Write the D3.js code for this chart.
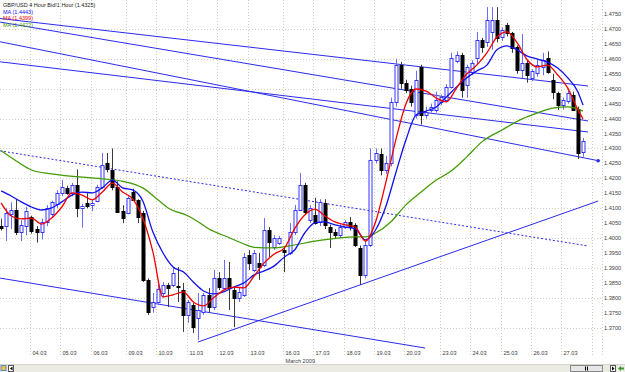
<!DOCTYPE html>
<html>
<head>
<meta charset="utf-8" />
<title>GBP/USD 4 Hour</title>
<script src="https://d3js.org/d3.v7.min.js"></script>
<style>
  body { margin: 0; background: #ffffff; }
  svg { display: block; font-family: "Liberation Sans", Arial, sans-serif; }
</style>
</head>
<body>
<svg id="chart"></svg>
<script>
// 4 hour bars, GBP/USD, 03.03.2009 - 27.03.2009
var opens  = [1.4040,1.4040,1.4080,1.4095,1.4020,1.4040,1.4070,1.4030,1.4020,1.4055,1.4080,1.4115,1.4150,1.4168,1.4150,1.4178,1.4100,1.4117,1.4110,1.4125,1.4170,1.4250,1.4228,1.4172,1.4090,1.4085,1.4155,1.4128,1.4084,1.3860,1.3769,1.3786,1.3815,1.3843,1.3843,1.3840,1.3826,1.3743,1.3776,1.3733,1.3753,1.3810,1.3769,1.3866,1.3833,1.3866,1.3826,1.3800,1.3810,1.3943,1.3893,1.3917,1.3910,1.4027,1.3970,1.3983,1.3960,1.3950,1.4020,1.4094,1.4178,1.4060,1.4077,1.4055,1.4117,1.4037,1.4020,1.4010,1.4037,1.4054,1.4044,1.3967,1.3877,1.3977,1.4262,1.4282,1.4228,1.4250,1.4455,1.4579,1.4519,1.4500,1.4412,1.4573,1.4412,1.4429,1.4429,1.4455,1.4462,1.4506,1.4593,1.4613,1.4512,1.4556,1.4603,1.4663,1.4656,1.4690,1.4730,1.4673,1.4713,1.4686,1.4640,1.4563,1.4586,1.4536,1.4553,1.4573,1.4603,1.4529,1.4486,1.4445,1.4460,1.4480,1.4432,1.4288];
var highs  = [1.4065,1.4100,1.4120,1.4130,1.4060,1.4105,1.4075,1.4040,1.4065,1.4110,1.4125,1.4160,1.4195,1.4175,1.4185,1.4230,1.4115,1.4150,1.4130,1.4178,1.4285,1.4285,1.4300,1.4190,1.4110,1.4140,1.4165,1.4130,1.4091,1.3865,1.3816,1.3845,1.3853,1.3850,1.3900,1.3903,1.3850,1.3793,1.3783,1.3816,1.3816,1.3833,1.3893,1.3886,1.3927,1.3920,1.3833,1.3833,1.3950,1.3960,1.3960,1.3950,1.4067,1.4037,1.4010,1.4007,1.3970,1.4050,1.4111,1.4218,1.4185,1.4110,1.4135,1.4130,1.4130,1.4045,1.4030,1.4045,1.4060,1.4070,1.4050,1.3975,1.3990,1.4300,1.4300,1.4300,1.4275,1.4470,1.4600,1.4590,1.4530,1.4510,1.4560,1.4580,1.4440,1.4450,1.4490,1.4480,1.4515,1.4620,1.4625,1.4620,1.4580,1.4595,1.4690,1.4670,1.4773,1.4773,1.4773,1.4705,1.4720,1.4690,1.4645,1.4683,1.4593,1.4565,1.4600,1.4620,1.4625,1.4550,1.4490,1.4470,1.4495,1.4490,1.4440,1.4335];
var lows   = [1.4025,1.3990,1.4030,1.4010,1.3990,1.4010,1.4015,1.3985,1.3995,1.4040,1.4070,1.4100,1.4140,1.4145,1.4140,1.4070,1.4035,1.4100,1.4090,1.4120,1.4165,1.4220,1.4160,1.4085,1.4050,1.4080,1.4125,1.4050,1.3853,1.3743,1.3750,1.3780,1.3800,1.3769,1.3836,1.3786,1.3686,1.3716,1.3682,1.3659,1.3743,1.3750,1.3759,1.3826,1.3826,1.3759,1.3702,1.3786,1.3803,1.3893,1.3886,1.3860,1.3903,1.3937,1.3960,1.3977,1.3886,1.3943,1.4010,1.4090,1.4080,1.4050,1.4045,1.4040,1.4030,1.3967,1.4000,1.4000,1.4030,1.4025,1.3970,1.3843,1.3865,1.3970,1.4250,1.4210,1.4215,1.4240,1.4440,1.4500,1.4485,1.4440,1.4400,1.4380,1.4400,1.4420,1.4420,1.4445,1.4455,1.4500,1.4585,1.4470,1.4470,1.4545,1.4580,1.4620,1.4640,1.4630,1.4655,1.4660,1.4675,1.4620,1.4550,1.4535,1.4520,1.4525,1.4540,1.4545,1.4550,1.4465,1.4429,1.4430,1.4450,1.4425,1.4265,1.4272];
var closes = [1.4035,1.4085,1.4095,1.4020,1.4045,1.4090,1.4025,1.4020,1.4055,1.4100,1.4120,1.4150,1.4170,1.4150,1.4178,1.4100,1.4108,1.4108,1.4118,1.4170,1.4245,1.4230,1.4172,1.4088,1.4068,1.4135,1.4128,1.4070,1.3860,1.3753,1.3786,1.3830,1.3843,1.3833,1.3883,1.3835,1.3743,1.3786,1.3702,1.3759,1.3810,1.3769,1.3866,1.3836,1.3866,1.3833,1.3800,1.3820,1.3937,1.3917,1.3950,1.3903,1.4027,1.3987,1.4000,1.4000,1.3953,1.4020,1.4094,1.4178,1.4087,1.4100,1.4050,1.4120,1.4044,1.4020,1.4010,1.4037,1.4054,1.4037,1.3977,1.3877,1.3977,1.4262,1.4285,1.4228,1.4250,1.4455,1.4579,1.4519,1.4496,1.4455,1.4529,1.4412,1.4422,1.4439,1.4462,1.4472,1.4506,1.4603,1.4613,1.4496,1.4573,1.4586,1.4663,1.4640,1.4730,1.4730,1.4670,1.4697,1.4686,1.4636,1.4563,1.4586,1.4546,1.4559,1.4580,1.4596,1.4556,1.4489,1.4445,1.4462,1.4486,1.4430,1.4285,1.4325];

// first bar of each day
var dayLabels = ["04.03","05.03","06.03","09.03","10.03","11.03","12.03","13.03","16.03","17.03","18.03","19.03","20.03","23.03","24.03","25.03","26.03","27.03"];
var dayStart  = [6,12,18,25,31,37,43,49,56,62,68,74,80,87,93,99,105,111];
var monthLabel = "March 2009";
var monthBar = 56;

var priceTicks = [1.3700,1.3750,1.3800,1.3850,1.3900,1.3950,1.4000,1.4050,1.4100,1.4150,1.4200,1.4250,1.4300,1.4350,1.4400,1.4450,1.4500,1.4550,1.4600,1.4650,1.4700,1.4750];
var gridPrices = [1.37,1.38,1.39,1.40,1.41,1.42,1.43,1.44,1.45,1.46,1.47];

// moving averages
var maIndex = [0,2,4,6,8,10,12,14,16,18,20,22,24,26,28,30,32,34,36,38,40,42,44,46,48,50,52,54,56,58,60,62,64,66,68,70,72,74,76,78,80,82,84,86,88,90,92,94,96,98,100,102,104,106,108,110,112,114,115];
var maBlue = [1.4158,1.4141,1.4121,1.4104,1.4094,1.4101,1.4121,1.4144,1.4154,1.4151,1.4168,1.4194,1.4168,1.4161,1.4124,1.4020,1.3950,1.3903,1.3887,1.3853,1.3823,1.3813,1.3820,1.3836,1.3850,1.3877,1.3890,1.3907,1.3937,1.3960,1.4017,1.4051,1.4054,1.4044,1.4037,1.4031,1.3994,1.4027,1.4104,1.4218,1.4328,1.4412,1.4425,1.4439,1.4472,1.4506,1.4536,1.4559,1.4579,1.4630,1.4643,1.4630,1.4609,1.4599,1.4589,1.4569,1.4536,1.4489,1.4445];
var maRed  = [1.4118,1.4074,1.4064,1.4067,1.4047,1.4067,1.4104,1.4151,1.4144,1.4128,1.4154,1.4184,1.4154,1.4131,1.4067,1.3954,1.3803,1.3810,1.3820,1.3786,1.3773,1.3800,1.3826,1.3836,1.3833,1.3873,1.3917,1.3947,1.3967,1.4031,1.4077,1.4097,1.4074,1.4054,1.4044,1.4037,1.3990,1.4054,1.4184,1.4328,1.4449,1.4499,1.4492,1.4469,1.4456,1.4502,1.4549,1.4579,1.4620,1.4673,1.4690,1.4653,1.4596,1.4573,1.4579,1.4546,1.4502,1.4429,1.4399];
var greenIndex = [0,3,6,10,20,24,28,31,33,37,39,41,45,48,50,54,57,63,70,72,74,77,80,83,86,89,92,95,99,103,106,109,112,115];
var maGreen = [1.4292,1.4258,1.4228,1.4215,1.4198,1.4190,1.4168,1.4128,1.4101,1.4074,1.4054,1.4031,1.4002,1.3980,1.3969,1.3967,1.3974,1.3992,1.4004,1.4004,1.4017,1.4054,1.4111,1.4154,1.4194,1.4225,1.4271,1.4322,1.4362,1.4399,1.4419,1.4435,1.4439,1.4425];

var legendLines = ["GBP/USD 4 Hour Bid!1 Hour (1.4325)", "MA (1.4443)", "MA (1.4399)", "MA (1.4422)"];

// drawn trend lines: [bar, price] at both ends
var trendFrom = [[-0.2,1.4735],[-0.2,1.4723],[-0.2,1.4657],[-0.2,1.4590],[-0.2,1.3866],[-0.2,1.4292],[38.9,1.3652]];
var trendTo   = [[116,1.4509],[116,1.4392],[118,1.4259],[116,1.4355],[83.8,1.3632],[115.8,1.3974],[118,1.4124]];

var width = 625, height = 372;
var plotRight = 602, plotBottom = 356;

var svg = d3.select("#chart")
  .attr("width", width)
  .attr("height", height);

svg.append("rect").attr("width", width).attr("height", height).attr("fill", "#ffffff");

var xScale = d3.scaleLinear().domain([0, 115]).range([1.1, 583]);
var yScale = d3.scaleLinear().domain([1.37, 1.475]).range([327.7, 14]);
function px(i) { return Math.round(xScale(i)) + 0.5; }
function py(p) { return Math.round(yScale(p)) + 0.5; }

svg.append("clipPath").attr("id", "plotClip")
  .append("rect").attr("x", 0).attr("y", 0).attr("width", plotRight).attr("height", plotBottom);

var grid = svg.append("g").attr("stroke", "#cfcfbf").attr("stroke-dasharray", "1,2");

// horizontal grid
grid.selectAll("line.h").data(gridPrices).enter().append("line")
  .attr("x1", 0).attr("x2", plotRight)
  .attr("y1", function(d) { return py(d); })
  .attr("y2", function(d) { return py(d); });

// vertical grid at each day
grid.selectAll("line.v").data(dayStart.concat([117])).enter().append("line")
  .attr("x1", function(d) { return px(d - 0.3); })
  .attr("x2", function(d) { return px(d - 0.3); })
  .attr("y1", 0).attr("y2", plotBottom);

grid.append("line").attr("x1", plotRight + 0.5).attr("x2", plotRight + 0.5)
  .attr("y1", 0).attr("y2", plotBottom);

var plot = svg.append("g").attr("clip-path", "url(#plotClip)");

// trend lines
plot.selectAll("line.trend").data(trendFrom).enter().append("line")
  .attr("x1", function(d) { return xScale(d[0]); })
  .attr("y1", function(d) { return yScale(d[1]); })
  .attr("x2", function(d, i) { return xScale(trendTo[i][0]); })
  .attr("y2", function(d, i) { return yScale(trendTo[i][1]); })
  .attr("stroke", "#2b2bf0")
  .attr("stroke-width", 1)
  .attr("stroke-dasharray", function(d, i) { return i == 5 ? "2,2" : null; });

plot.append("circle")
  .attr("cx", xScale(trendTo[2][0]))
  .attr("cy", yScale(trendTo[2][1]))
  .attr("r", 1.8)
  .attr("fill", "#2b2bf0");

// candles
var bars = d3.range(opens.length);
var candle = plot.selectAll("g.candle").data(bars).enter().append("g");

candle.append("line")
  .attr("x1", function(i) { return px(i); })
  .attr("x2", function(i) { return px(i); })
  .attr("y1", function(i) { return yScale(highs[i]); })
  .attr("y2", function(i) { return yScale(lows[i]); })
  .attr("stroke", function(i) { return closes[i] >= opens[i] ? "#6b6bff" : "#3a3a3a"; });

candle.append("rect")
  .attr("x", function(i) { return px(i) - 1.5; })
  .attr("width", 3)
  .attr("y", function(i) { return py(Math.max(opens[i], closes[i])); })
  .attr("height", function(i) { return Math.max(1, py(Math.min(opens[i], closes[i])) - py(Math.max(opens[i], closes[i]))); })
  .attr("fill", function(i) { return closes[i] >= opens[i] ? "#ffffff" : "#000000"; })
  .attr("stroke", function(i) { return closes[i] >= opens[i] ? "#3434ff" : "#000000"; })
  .attr("stroke-width", 1);

// moving averages
var maLine = d3.line()
  .x(function(d) { return xScale(d[0]); })
  .y(function(d) { return yScale(d[1]); })
  .curve(d3.curveMonotoneX);

plot.append("path")
  .datum(greenIndex.map(function(d, i) { return [d, maGreen[i]]; }))
  .attr("d", maLine).attr("fill", "none").attr("stroke", "#3f9a00").attr("stroke-width", 1.2);
plot.append("path")
  .datum(maIndex.map(function(d, i) { return [d, maBlue[i]]; }))
  .attr("d", maLine).attr("fill", "none").attr("stroke", "#1010f0").attr("stroke-width", 1.3);
plot.append("path")
  .datum(maIndex.map(function(d, i) { return [d, maRed[i]]; }))
  .attr("d", maLine).attr("fill", "none").attr("stroke", "#f00000").attr("stroke-width", 1.3);

// price axis labels
svg.append("g").selectAll("text").data(priceTicks).enter().append("text")
  .attr("x", plotRight + 2)
  .attr("y", function(d) { return yScale(d) + 2; })
  .attr("font-size", "5.6px")
  .attr("fill", "#404040")
  .text(function(d) { return d.toFixed(4); });

// date labels
svg.append("g").selectAll("text").data(dayLabels).enter().append("text")
  .attr("x", function(d, i) { return px(dayStart[i] - 0.3) + 2; })
  .attr("y", 355)
  .attr("font-size", "5.6px")
  .attr("fill", "#404040")
  .text(function(d) { return d; });

svg.append("text")
  .attr("x", px(monthBar - 0.3) + 2)
  .attr("y", 362.5)
  .attr("font-size", "5.6px")
  .attr("fill", "#404040")
  .text(monthLabel);

// legend
var legendColors = ["#202020", "#1010f0", "#f00000", "#3f9a00"];
svg.append("g").selectAll("text").data(legendLines).enter().append("text")
  .attr("x", 3)
  .attr("y", function(d, i) { return 7 + i * 6.7; })
  .attr("font-size", "5.5px")
  .attr("fill", function(d, i) { return legendColors[i]; })
  .text(function(d) { return d; });

// scroll bar strip
var bar = svg.append("g");
bar.append("rect").attr("x", 0).attr("y", 364).attr("width", width).attr("height", 8).attr("fill", "#ecebe3");
bar.append("line").attr("x1", 0).attr("x2", width).attr("y1", 364.5).attr("y2", 364.5).attr("stroke", "#d8d6cc");
bar.append("rect").attr("x", 1).attr("y", 365.5).attr("width", 5).attr("height", 5).attr("fill", "#f0c040").attr("stroke", "#5a8ac8");
bar.append("rect").attr("x", 8.5).attr("y", 365.5).attr("width", 5).attr("height", 6).attr("fill", "#ffffff").attr("stroke", "#555");
bar.append("path").attr("d", "M12.5,366.5 L10,368.5 L12.5,370.5 Z").attr("fill", "#000");
bar.append("rect").attr("x", 570.5).attr("y", 365.5).attr("width", 32).attr("height", 6).attr("fill", "#e6e6e6").attr("stroke", "#888");
bar.append("rect").attr("x", 585).attr("y", 366.5).attr("width", 1).attr("height", 4).attr("fill", "#000");
bar.append("rect").attr("x", 587).attr("y", 366.5).attr("width", 1).attr("height", 4).attr("fill", "#000");
bar.append("rect").attr("x", 610.5).attr("y", 365.5).attr("width", 5).attr("height", 6).attr("fill", "#ffffff").attr("stroke", "#555");
bar.append("path").attr("d", "M612,366.5 L614.5,368.5 L612,370.5 Z").attr("fill", "#000");
bar.append("path").attr("d", "M618,368.5 L621,366 L621,367.5 L624,367.5 L624,369.5 L621,369.5 L621,371 Z").attr("fill", "#3a9a2a");
</script>
</body>
</html>
